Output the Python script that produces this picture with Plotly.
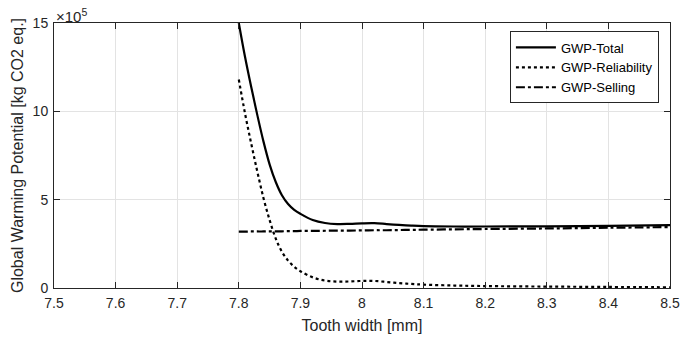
import plotly.graph_objects as go

tooth_width = [7.8, 7.81, 7.82, 7.83, 7.84, 7.85, 7.86, 7.87, 7.88, 7.89, 7.9, 7.92, 7.94,
               7.96, 7.98, 8.0, 8.02, 8.04, 8.06, 8.08, 8.1, 8.15, 8.2, 8.3, 8.4, 8.5]
gwp_total = [15.0, 13.1, 11.4, 9.8, 8.3, 7.0, 6.0, 5.25, 4.75, 4.42, 4.2, 3.85, 3.68, 3.62, 3.63,
             3.66, 3.67, 3.62, 3.57, 3.53, 3.50, 3.48, 3.48, 3.49, 3.52, 3.56]
gwp_reliability = [11.8, 9.9, 8.2, 6.6, 5.1, 3.85, 2.8, 2.05, 1.55, 1.2, 0.95, 0.6, 0.42, 0.36, 0.37,
                   0.40, 0.40, 0.34, 0.28, 0.23, 0.19, 0.14, 0.11, 0.08, 0.06, 0.04]
gwp_selling = [3.19, 3.19, 3.20, 3.20, 3.20, 3.21, 3.21, 3.21, 3.22, 3.22, 3.23, 3.23, 3.24,
               3.25, 3.25, 3.26, 3.27, 3.27, 3.28, 3.29, 3.30, 3.32, 3.34, 3.37, 3.41, 3.45]
x_ticks = [7.5, 7.6, 7.7, 7.8, 7.9, 8.0, 8.1, 8.2, 8.3, 8.4, 8.5]
x_tick_labels = ["7.5", "7.6", "7.7", "7.8", "7.9", "8", "8.1", "8.2", "8.3", "8.4", "8.5"]
y_ticks = [0, 5, 10, 15]

FONT = "Liberation Sans, Arial, sans-serif"
TXT = "#262626"
fig = go.Figure()
fig.add_trace(go.Scatter(x=tooth_width, y=gwp_total, mode="lines", name="GWP-Total",
                         line=dict(color="black", width=2.2, shape="spline")))
fig.add_trace(go.Scatter(x=tooth_width, y=gwp_reliability, mode="lines", name="GWP-Reliability",
                         line=dict(color="black", width=2.2, dash="dot", shape="spline")))
fig.add_trace(go.Scatter(x=tooth_width, y=gwp_selling, mode="lines", name="GWP-Selling",
                         line=dict(color="black", width=2.2, dash="dashdot", shape="spline")))

axis_common = dict(showgrid=True, gridcolor="#e3e3e3", gridwidth=1, showline=True,
                   linecolor=TXT, linewidth=1, mirror="ticks", ticks="inside",
                   ticklen=6, tickcolor=TXT, zeroline=False, automargin=False,
                   tickfont=dict(family=FONT, size=14, color=TXT))

fig.update_layout(
    width=681, height=340,
    margin=dict(l=54, r=11, t=23, b=52, autoexpand=False),
    paper_bgcolor="white", plot_bgcolor="white",
    font=dict(family=FONT, color=TXT),
    xaxis=dict(range=[7.5, 8.5], tickvals=x_ticks, ticktext=x_tick_labels,
               ticklabelstandoff=2,
               title=dict(text="Tooth width [mm]", font=dict(family=FONT, size=16, color=TXT),
                          standoff=10),
               **axis_common),
    yaxis=dict(range=[0, 15], tickvals=y_ticks, ticklabelstandoff=2,
               title=dict(text="Global Warming Potential [kg CO2 eq.]",
                          font=dict(family=FONT, size=16, color=TXT), standoff=5),
               **axis_common),
    legend=dict(x=0.982, y=0.968, xanchor="right", yanchor="top",
                bgcolor="white", bordercolor=TXT, borderwidth=1,
                font=dict(family=FONT, size=13, color="black"),
                tracegroupgap=0, itemwidth=40),
    showlegend=True,
)
fig.add_annotation(x=0, y=1, xref="paper", yref="paper", xanchor="left", yanchor="bottom",
                   text="×10<sup>5</sup>", showarrow=False, xshift=0, yshift=-4,
                   font=dict(family=FONT, size=15, color=TXT))

fig.write_html("out.html", config={"displayModeBar": False},
               post_script="document.body.style.margin='0';document.body.style.overflow='hidden';")
